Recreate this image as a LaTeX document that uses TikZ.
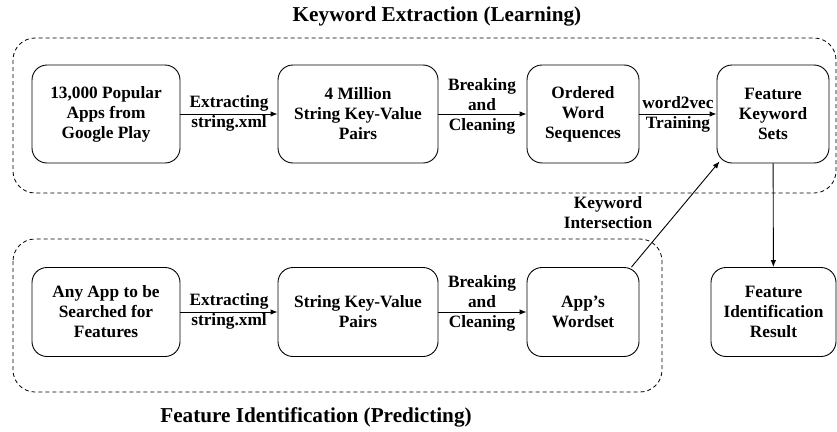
\documentclass[tikz,border=0pt]{standalone}
\usepackage{fontspec}
\setmainfont{Liberation Serif}
\usetikzlibrary{arrows.meta,calc}
\begin{document}
\begin{tikzpicture}[x=1pt,y=-1pt,
  every node/.style={font=\fontsize{17.3}{20}\selectfont\bfseries},
  proc/.style={draw,line width=0.9pt,rounded corners=15pt,align=center,inner sep=0pt},
  region/.style={draw,line width=0.8pt,dash pattern=on 4pt off 3pt,rounded corners=22pt},
  lbl/.style={align=center,inner sep=0pt},
  ttl/.style={font=\fontsize{21.2}{24}\selectfont\bfseries,inner sep=0pt},
  flow/.style={line width=0.9pt,-{Latex[length=7pt,width=5.5pt]}}
]
\useasboundingbox (0,0) rectangle (837,431);
% regions
\draw[region] (13,38) rectangle (836,193);
\draw[region] (13,239) rectangle (662,392);
\node[ttl] (t1) at (437,16) {Keyword Extraction (Learning)};
\node[ttl] (t2) at (316,417) {Feature Identification (Predicting)};
% top row
\node[proc,minimum width=148pt,minimum height=98pt] (b1) at (106,114) {13,000 Popular\\Apps from\\Google Play};
\node[proc,minimum width=160pt,minimum height=98pt] (b2) at (358,114) {4 Million\\String Key-Value\\Pairs};
\node[proc,minimum width=112pt,minimum height=98pt] (b3) at (583,114) {Ordered\\Word\\Sequences};
\node[proc,minimum width=112pt,minimum height=98pt] (b4) at (773,114) {Feature\\Keyword\\Sets};
% bottom row
\node[proc,minimum width=148pt,minimum height=89pt] (b5) at (106,312) {Any App to be\\Searched for\\Features};
\node[proc,minimum width=160pt,minimum height=89pt] (b6) at (358,312) {String Key-Value\\Pairs};
\node[proc,minimum width=112pt,minimum height=89pt] (b7) at (583,312) {App's\\Wordset};
\node[proc,minimum width=125pt,minimum height=89pt] (b8) at (773.5,312) {Feature\\Identification\\Result};
% arrows
\draw[flow] (b1) -- (b2);
\draw[flow] (b2) -- (b3);
\draw[flow] (b3) -- (b4);
\draw[flow] (b5) -- (b6);
\draw[flow] (b6) -- (b7);
\draw[flow] (b4) -- (b8);
\coordinate (s7) at ($(b7.north east)+(-8,0)$);
\coordinate (e4) at ($(b4.south west)+(3,-2)$);
\draw[flow] (s7) -- (e4);
% labels
\node[lbl] (l1) at (229,113) {Extracting\\string.xml};
\node[lbl] (l2) at (482,106) {Breaking\\and\\Cleaning};
\node[lbl] (l3) at (678,114) {word2vec\\Training};
\node[lbl] (l4) at (229,311) {Extracting\\string.xml};
\node[lbl] (l5) at (482,303) {Breaking\\and\\Cleaning};
\node[lbl] (l6) at (608,213) {Keyword\\Intersection};
\end{tikzpicture}
\end{document}
